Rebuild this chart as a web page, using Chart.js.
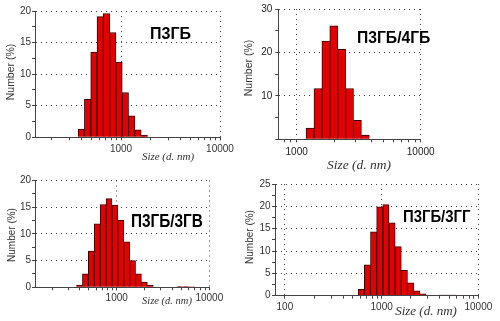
<!DOCTYPE html>
<html>
<head>
<meta charset="utf-8">
<script src="https://cdn.jsdelivr.net/npm/chart.js@4.4.1/dist/chart.umd.min.js"></script>
<style>
  html, body { margin: 0; padding: 0; background: #fff; }
  #wrap { position: relative; width: 500px; height: 321px; overflow: hidden; }
  canvas { position: absolute; }
</style>
</head>
<body>
<div id="wrap">
  <canvas id="c1" width="250" height="170" style="left:0;top:0"></canvas>
  <canvas id="c2" width="260" height="178" style="left:240px;top:0"></canvas>
  <canvas id="c3" width="250" height="161" style="left:0;top:160px"></canvas>
  <canvas id="c4" width="260" height="161" style="left:240px;top:160px"></canvas>
</div>
<script>
// size classes (nm), shared by all four distributions
const sizes = [342.0, 396.1, 458.7, 531.2, 615.1, 712.4, 825.0, 955.4, 1106, 1281, 1484,
               1718, 1990, 2305, 2669, 3091, 3580, 4145, 4801, 5560, 6439];

// Number (%) per size class
const numberP3GB    = [0, 1.3, 6.0, 13.5, 19.1, 19.6, 16.6, 11.9, 7.1, 3.4, 1.2, 0.3, 0, 0, 0, 0, 0, 0, 0, 0, 0];
const numberP3GB4GB = [0, 0, 0, 0, 0, 0, 0, 0, 0, 2.6, 11.7, 22.6, 26.1, 20.7, 11.7, 4.35, 1.0, 0, 0, 0, 0];
const numberP3GB3GV = [0, 0.4, 2.5, 6.8, 11.9, 15.5, 16.6, 15.4, 12.6, 8.5, 5.0, 2.5, 1.0, 0.4, 0, 0, 0, 0, 0.15, 0.15, 0.1];
const numberP3GB3GG = [0, 0, 0, 0, 1.4, 6.9, 14.3, 19.9, 20.4, 16.3, 11.0, 5.7, 2.9, 1.1, 0.4, 0.1, 0, 0.15, 0.15, 0.15, 0];

// x axis ticks and the ones that get a label
const xTickValues = [100, 200, 300, 400, 500, 600, 700, 800, 900,
                     1000, 2000, 3000, 4000, 5000, 6000, 7000, 8000, 9000, 10000];
const xTickLabels = [100, 1000, 10000];

const yTitle = 'Number (%)';
const xTitle = 'Size (d. nm)';

Chart.defaults.font.family = "'Liberation Sans', Arial, sans-serif";

const textPlugin = {
  id: 'panelText',
  afterDraw(chart, args, opts) {
    const ctx = chart.ctx;
    (opts.items || []).forEach(t => {
      ctx.save();
      ctx.translate(t.x, t.y);
      if (t.rotate) ctx.rotate(t.rotate);
      ctx.scale(t.sx || 1, 1);
      ctx.font = t.font;
      ctx.fillStyle = t.color || '#000';
      ctx.textAlign = t.align || 'left';
      ctx.textBaseline = t.baseline || 'alphabetic';
      ctx.fillText(t.text, 0, 0);
      ctx.restore();
    });
  }
};

const panels = [
  { id: 'c1', values: numberP3GB, title: 'П3ГБ', xMin: 135, yMax: 20, yStep: 5, showZero: true,
    box: { left: 35, top: 11, right: 220, bottom: 137.3 }, xPad: 3, yPad: 1, tickColor: '#333',
    titlePos: { x: 150, y: 38.5, size: 16, sx: 1 },
    yTitlePos: { x: 11, y: 72, size: 10.5 },
    xTitlePos: { x: 168, y: 157, size: 11 } },
  { id: 'c2', values: numberP3GB4GB, title: 'П3ГБ/4ГБ', xMin: 711, yMax: 30, yStep: 10, showZero: false,
    box: { left: 38.3, top: 6, right: 180.7, bottom: 139.3 }, xPad: 4, yPad: 3, tickColor: '#222',
    titlePos: { x: 117, y: 42.5, size: 16.5, sx: 0.95 },
    yTitlePos: { x: 9, y: 68, size: 10.5 },
    xTitlePos: { x: 119, y: 165, size: 13.5 } },
  { id: 'c3', values: numberP3GB3GV, title: 'П3ГБ/3ГВ', xMin: 131, yMax: 20, yStep: 5, showZero: true,
    box: { left: 35, top: 20.5, right: 209.3, bottom: 127.3 }, xPad: 2, yPad: 1, tickColor: '#333',
    titlePos: { x: 131, y: 67, size: 18.5, sx: 0.83 },
    yTitlePos: { x: 12, y: 75, size: 10 },
    xTitlePos: { x: 167, y: 141.7, size: 10.5 } },
  { id: 'c4', values: numberP3GB3GG, title: 'П3ГБ/3ГГ', xMin: 79, yMax: 25, yStep: 5, showZero: true,
    box: { left: 35, top: 24, right: 238.4, bottom: 135.7 }, xPad: 3, yPad: 1.5, tickColor: '#333',
    titlePos: { x: 163, y: 61.7, size: 16, sx: 0.93 },
    yTitlePos: { x: 10, y: 77, size: 10 },
    xTitlePos: { x: 186, y: 151.7, size: 13 } }
];

panels.forEach(p => {
  const canvas = document.getElementById(p.id);
  const W = canvas.width, H = canvas.height;
  const dotted = '#444';

  new Chart(canvas.getContext('2d'), {
    type: 'bar',
    data: {
      datasets: [{
        data: sizes.map((s, i) => ({ x: s, y: p.values[i] })),
        backgroundColor: '#e40000',
        borderColor: '#3a0000',
        borderWidth: 1,
        barThickness: 'flex',
        categoryPercentage: 1,
        barPercentage: 1
      }]
    },
    options: {
      responsive: false,
      animation: false,
      devicePixelRatio: 1,
      layout: { padding: { top: p.box.top, right: W - p.box.right, left: 0, bottom: 0 } },
      plugins: {
        legend: { display: false },
        tooltip: { enabled: false },
        panelText: {
          items: [
            { text: p.title, x: p.titlePos.x, y: p.titlePos.y, sx: p.titlePos.sx,
              font: 'bold ' + p.titlePos.size + "px 'Liberation Sans', Arial, sans-serif", color: '#000' },
            { text: yTitle, x: p.yTitlePos.x, y: p.yTitlePos.y, rotate: -Math.PI / 2,
              align: 'center', baseline: 'middle', color: '#333',
              font: p.yTitlePos.size + "px 'Liberation Sans', Arial, sans-serif" },
            { text: xTitle, x: p.xTitlePos.x, y: p.xTitlePos.y, align: 'center', baseline: 'middle',
              color: '#333', font: 'italic ' + p.xTitlePos.size + "px 'Liberation Serif', 'Times New Roman', serif" }
          ]
        }
      },
      scales: {
        x: {
          type: 'logarithmic',
          min: p.xMin,
          max: 10000,
          offset: false,
          afterFit: s => { s.height = H - p.box.bottom; },
          afterBuildTicks: s => {
            s.ticks = xTickValues.filter(v => v >= p.xMin && v <= 10000).map(v => ({ value: v }));
          },
          grid: {
            offset: false,
            color: c => (c.tick && xTickLabels.includes(c.tick.value)) ? dotted : 'rgba(0,0,0,0)',
            lineWidth: 1,
            tickColor: '#444',
            tickLength: 3,
            tickWidth: 1
          },
          border: { display: true, color: '#444', width: 1, dash: [1, 4], z: 1 },
          ticks: {
            autoSkip: false,
            maxRotation: 0,
            padding: p.xPad,
            color: p.tickColor,
            font: { size: 10 },
            callback: v => xTickLabels.includes(v) ? String(v) : ''
          }
        },
        y: {
          min: 0,
          max: p.yMax,
          afterFit: s => { s.width = p.box.left; },
          afterBuildTicks: s => {
            const t = [];
            for (let v = 0; v <= p.yMax + 1e-9; v += p.yStep / 2) t.push({ value: v });
            s.ticks = t;
          },
          grid: {
            color: c => (c.tick && c.tick.value > 0 && c.tick.value % p.yStep === 0) ? dotted : 'rgba(0,0,0,0)',
            lineWidth: 1,
            tickColor: '#444',
            tickLength: 3,
            tickWidth: 1
          },
          border: { display: true, color: '#444', width: 1, dash: [1, 4], z: 1 },
          ticks: {
            autoSkip: false,
            padding: p.yPad,
            color: p.tickColor,
            font: { size: 10 },
            callback: v => (v % p.yStep === 0 && (v > 0 || p.showZero)) ? String(v) : ''
          }
        }
      }
    },
    plugins: [textPlugin]
  });
});
</script>
</body>
</html>
